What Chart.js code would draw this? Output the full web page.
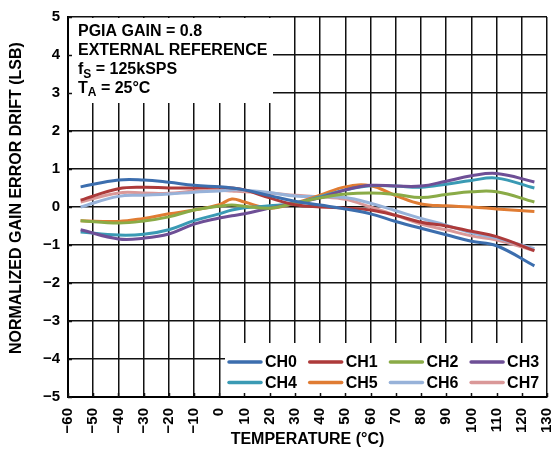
<!DOCTYPE html>
<html>
<head>
<meta charset="utf-8">
<script src="https://cdn.jsdelivr.net/npm/chart.js@4.4.0/dist/chart.umd.min.js"></script>
<style>
  body { margin: 0; background: #fff; }
  #wrap { width: 554px; height: 450px; }
</style>
</head>
<body>
<div id="wrap"><canvas id="chart"></canvas></div>
<script>
// temperatures (°C) where the curves were read
var temps = [-55, -40, -30, -20, -10, 0, 5, 10, 20, 30, 40, 50, 60, 70, 80, 90, 100, 110, 125];

// normalized gain error drift (LSB) per channel
var ch0 = [0.53, 0.71, 0.71, 0.65, 0.57, 0.53, 0.50, 0.45, 0.30, 0.15, 0.05, -0.05, -0.18, -0.38, -0.56, -0.73, -0.90, -1.02, -1.55];
var ch1 = [0.18, 0.48, 0.52, 0.50, 0.50, 0.52, 0.50, 0.45, 0.24, 0.06, 0.00, -0.03, -0.08, -0.22, -0.40, -0.50, -0.64, -0.78, -1.15];
var ch2 = [-0.36, -0.42, -0.37, -0.26, -0.08, 0.02, 0.05, 0.02, -0.03, 0.10, 0.24, 0.34, 0.37, 0.33, 0.25, 0.33, 0.40, 0.40, 0.13];
var ch3 = [-0.60, -0.84, -0.82, -0.71, -0.45, -0.29, -0.23, -0.18, -0.03, 0.10, 0.24, 0.45, 0.57, 0.55, 0.55, 0.68, 0.82, 0.88, 0.66];
var ch4 = [-0.66, -0.74, -0.72, -0.60, -0.36, -0.18, -0.08, -0.02, 0.03, 0.10, 0.27, 0.45, 0.56, 0.55, 0.52, 0.60, 0.70, 0.76, 0.50];
var ch5 = [-0.36, -0.38, -0.30, -0.18, -0.08, 0.06, 0.21, 0.13, -0.03, 0.10, 0.31, 0.53, 0.56, 0.30, 0.08, 0.03, 0.00, -0.05, -0.12];
var ch6 = [0.00, 0.28, 0.31, 0.34, 0.39, 0.42, 0.45, 0.44, 0.38, 0.29, 0.27, 0.25, 0.10, -0.10, -0.30, -0.48, -0.68, -0.82, -1.10];
var ch7 = [0.13, 0.37, 0.37, 0.36, 0.42, 0.44, 0.42, 0.40, 0.37, 0.31, 0.27, 0.20, 0.00, -0.22, -0.45, -0.60, -0.76, -0.87, -1.15];

var channelNames = ['CH0', 'CH1', 'CH2', 'CH3', 'CH4', 'CH5', 'CH6', 'CH7'];
var channelColors = ['#3c6eae', '#ad3a3a', '#8aab47', '#6e4f96', '#3a9ab4', '#e07c33', '#97b2d9', '#da9898'];
var series = [ch0, ch1, ch2, ch3, ch4, ch5, ch6, ch7];

// [main, subscript, rest]
var notes = [
    ['PGIA GAIN = 0.8', '', ''],
    ['EXTERNAL REFERENCE', '', ''],
    ['f', 'S', ' = 125kSPS'],
    ['T', 'A', ' = 25°C']
];

var FONT = '"Liberation Sans", Arial, Helvetica, sans-serif';

function minusSign(v) {
    return String(v).replace('-', '\u2212');
}

var datasets = series.map(function (vals, i) {
    return {
        label: channelNames[i],
        data: temps.map(function (t, j) { return {x: t, y: vals[j]}; }),
        borderColor: channelColors[i],
        backgroundColor: channelColors[i],
        borderWidth: 3,
        pointRadius: 0,
        tension: 0.4,
        fill: false
    };
});

var boxes = {
    id: 'boxes',
    beforeDatasetsDraw: function (chart) {
        var a = chart.chartArea, c = chart.ctx;
        var xs = chart.scales.x, ys = chart.scales.y;
        c.save();
        c.fillStyle = '#fff';
        // note box top left, legend box bottom right
        c.fillRect(a.left + 1, a.top + 1, 204, 85);
        c.fillRect(a.left + 157, a.bottom - 54, a.right - a.left - 158, 53);
        // short inner ticks along left and bottom edges
        c.strokeStyle = '#111';
        c.lineWidth = 1.5;
        c.beginPath();
        for (var v = -5; v <= 5; v++) {
            var py = Math.round(ys.getPixelForValue(v)) + 0.5;
            c.moveTo(a.left, py); c.lineTo(a.left + 4, py);
        }
        for (var t = -60; t <= 130; t += 10) {
            var px = Math.round(xs.getPixelForValue(t)) + 0.5;
            c.moveTo(px, a.bottom); c.lineTo(px, a.bottom - 4);
        }
        c.stroke();
        c.restore();
    },
    afterDraw: function (chart) {
        var a = chart.chartArea, c = chart.ctx;
        c.save();
        c.fillStyle = '#000';
        c.textBaseline = 'middle';
        // notes
        notes.forEach(function (n, i) {
            var x = a.left + 10, y = a.top + 15 + i * 18.7;
            c.font = 'bold 16px ' + FONT;
            c.fillText(n[0], x, y);
            x += c.measureText(n[0]).width;
            if (n[1]) {
                c.font = 'bold 12px ' + FONT;
                c.fillText(n[1], x, y + 5);
                x += c.measureText(n[1]).width;
                c.font = 'bold 16px ' + FONT;
                c.fillText(n[2], x, y);
            }
        });
        // legend
        c.font = 'bold 16px ' + FONT;
        chart.data.datasets.forEach(function (ds, i) {
            var col = i % 4, row = Math.floor(i / 4);
            var x = a.left + 161 + col * 80.7;
            var y = a.bottom - 35 + row * 20.5;
            c.strokeStyle = ds.borderColor;
            c.lineWidth = 3.5;
            c.lineCap = 'round';
            c.beginPath();
            c.moveTo(x, y); c.lineTo(x + 32, y);
            c.stroke();
            c.fillText(ds.label, x + 36, y + 1);
        });
        c.restore();
    }
};

new Chart(document.getElementById('chart'), {
    type: 'line',
    data: {datasets: datasets},
    options: {
        responsive: true,
        maintainAspectRatio: false,
        animation: false,
        layout: {padding: {top: 17, right: 7, left: 0, bottom: 0}},
        plugins: {
            legend: {display: false},
            tooltip: {enabled: false}
        },
        scales: {
            x: {
                type: 'linear',
                min: -60,
                max: 130,
                afterFit: function (s) {
                    s.height = 53;
                    s.paddingLeft = 0;
                    s.paddingRight = 0;
                },
                ticks: {
                    stepSize: 10,
                    autoSkip: false,
                    minRotation: 90,
                    maxRotation: 90,
                    padding: 11,
                    color: '#000',
                    font: {family: FONT, size: 15, weight: 'bold'},
                    callback: function (v) { return minusSign(v); }
                },
                grid: {color: '#111', lineWidth: 1.5, drawTicks: false},
                border: {color: '#000', width: 2},
                title: {
                    display: true,
                    text: 'TEMPERATURE (°C)',
                    color: '#000',
                    font: {family: FONT, size: 16, weight: 'bold'},
                    padding: {top: 0, bottom: 1}
                }
            },
            y: {
                min: -5,
                max: 5,
                afterFit: function (s) {
                    s.width = 68;
                    s.paddingTop = 0;
                    s.paddingBottom = 0;
                },
                ticks: {
                    stepSize: 1,
                    padding: 8,
                    color: '#000',
                    font: {family: FONT, size: 15, weight: 'bold'},
                    callback: function (v) { return minusSign(v); }
                },
                grid: {color: '#111', lineWidth: 1.5, drawTicks: false},
                border: {color: '#000', width: 2},
                title: {
                    display: true,
                    text: '\u00a0\u00a0\u00a0\u00a0NORMALIZED GAIN ERROR DRIFT (LSB)',
                    color: '#000',
                    font: {family: FONT, size: 16, weight: 'bold'},
                    padding: {top: 7, bottom: 0}
                }
            }
        }
    },
    plugins: [boxes]
});
</script>
</body>
</html>
